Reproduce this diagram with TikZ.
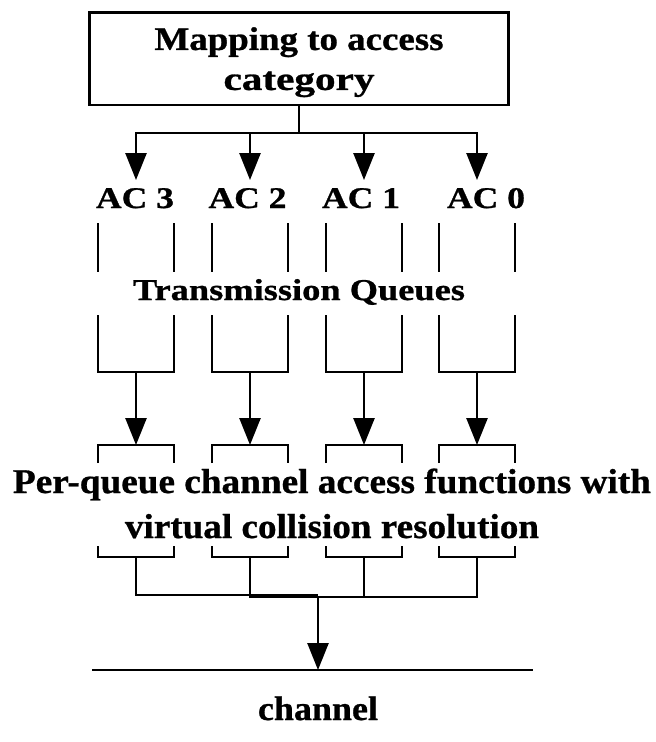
\documentclass[tikz,border=0pt]{standalone}
\usepackage{fontspec}
\setmainfont{Liberation Serif}[BoldFeatures={FakeBold=0.8}]
\usepackage{graphicx}
\usetikzlibrary{arrows.meta}
% one bold line of text, set at a given size and stretched to a given width
\newcommand\fitline[3]{\resizebox{#1pt}{\height}{\fontsize{#2pt}{#2pt}\selectfont\bfseries #3}}

\begin{document}
\begin{tikzpicture}[x=1pt, y=-1pt,
  wire/.style={line width=2.6pt},
  flow/.style={wire, -{Triangle[length=27pt,width=21pt]}},
  lbl/.style={inner sep=0pt, anchor=base, font=\bfseries},
]
\useasboundingbox[fill=white] (0,0) rectangle (656,742);

% mapping box
\node[draw, wire, minimum width=418.5pt, minimum height=92.5pt, inner sep=0pt,
      align=center, font=\fontsize{32.8pt}{40pt}\selectfont\bfseries]
  (map) at (299,58.75)
  {\rule{0pt}{29.6pt}\fitline{289}{32.8}{Mapping to access}\\
   \fitline{151}{32.8}{category}};
\coordinate (split) at (299,133);
\draw[wire] (map.south) -- (split);

% access category labels
\node[lbl] (ac3) at (135,208)   {\fitline{78}{30}{AC 3}};
\node[lbl] (ac2) at (247.5,208) {\fitline{78}{30}{AC 2}};
\node[lbl] (ac1) at (361,208)   {\fitline{78}{30}{AC 1}};
\node[lbl] (ac0) at (486,208)   {\fitline{78}{30}{AC 0}};

\node[lbl] (tq) at (299,300) {\fitline{332}{30.2}{Transmission Queues}};

% two-line label; its base anchor sits on the last line
\node[inner sep=0pt, anchor=base, align=center,
      font=\fontsize{34.7pt}{45pt}\selectfont\bfseries]
  (pq) at (332,538)
  {\fitline{638}{34.7}{Per-queue channel access functions with}\\
   \fitline{414}{34.7}{virtual collision resolution}};

\node[lbl] (chl) at (318,720) {\fitline{120}{34}{channel}};

% one column per access category
\foreach \x/\n in {136/3, 250/2, 364/1, 477/0}{
  \coordinate (acin\n) at (\x,180);
  \draw[flow] (split) -| (acin\n);
  % queue walls
  \draw[wire] (\x-38,223) -- (\x-38,272);
  \draw[wire] (\x+38,223) -- (\x+38,272);
  \draw[wire] (\x-38,315) |- (\x+38,372) -- (\x+38,315);
  \coordinate (qb\n) at (\x,372);
  \coordinate (fa\n) at (\x,445);
  \draw[flow] (qb\n) -- (fa\n);
  % access function brackets
  \draw[wire] (\x-38,463) |- (\x+38,445) -- (\x+38,463);
  \draw[wire] (\x-38,546) |- (\x+38,557) -- (\x+38,546);
  \coordinate (fb\n) at (\x,557);
}

% merge onto the channel
\coordinate (busL) at (318,595);
\coordinate (drop) at (318,597);
\coordinate (chin) at (318,670);
\draw[wire] (fb3) |- (busL);
\draw[wire] (fb2) |- (drop) -| (fb0);
\draw[wire] (fb1) -- (fb1 |- drop);
\draw[flow] (drop) -- (chin);
\coordinate (chL) at (92,670);
\coordinate (chR) at (533,670);
\draw[wire] (chL) -- (chR);
\end{tikzpicture}
\end{document}
